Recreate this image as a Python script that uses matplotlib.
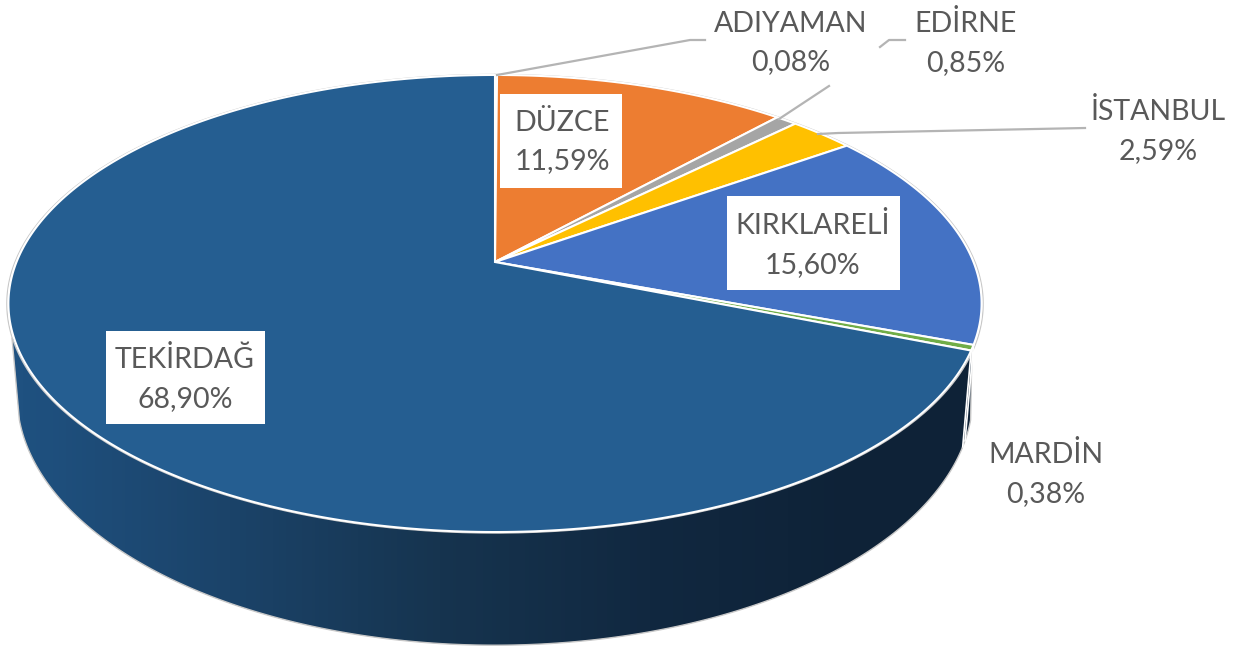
import numpy as np
import matplotlib
matplotlib.use("Agg")
import matplotlib.pyplot as plt
from matplotlib.colors import LinearSegmentedColormap
from matplotlib.patches import Polygon, Rectangle

names = ["ADIYAMAN", "DÜZCE", "EDİRNE", "İSTANBUL", "KIRKLARELİ", "MARDİN", "TEKİRDAĞ"]
shares = [0.08, 11.59, 0.85, 2.59, 15.60, 0.38, 68.90]
colors = ["#5B9BD5", "#ED7D31", "#A5A5A5", "#FFC000", "#4472C4", "#70AD47", "#255E91"]
label_pos = [(791, 43), (562, 142), (966, 43), (1158, 131), (813, 245), (1046, 474), (185, 379)]
wall_colors = ["#1F5180", "#1B4369", "#16344F", "#112840", "#0E2237"]

# white label backgrounds: x0, y0, x1, y1
label_boxes = [(500, 94, 622, 188), (727, 196, 900, 290), (106, 331, 265, 424)]

# pie seen in perspective: (cx, apex y, a, b, k)
TOP = (495, 262, 478.5, 221, 0.1816)
BOTTOM = (495, 350, 470, 241.6, 0.1816)


def project(theta, r, view):
    cx, cy, a, b, k = view
    u = r * np.sin(theta)
    v = r * np.cos(theta)
    d = 1 + k * v
    return cx + a * u / d, cy - b * v / d


fig = plt.figure(figsize=(12.42, 6.48), dpi=100)
ax = fig.add_axes([0, 0, 1, 1])
ax.axis("off")

# side wall with gradient
lx, ly = 12, 338
rx, ry = 972, 345
t = np.linspace(np.radians(254), np.radians(106), 300)
bx, by = project(t, 1.0, BOTTOM)
wall = np.column_stack([np.r_[lx, bx, rx], np.r_[ly, by, ry]])
patch = Polygon(wall, closed=True, fc="none", ec="#C8C8C8", lw=1.0, zorder=1)
ax.add_patch(patch)
cmap = LinearSegmentedColormap.from_list("wall", wall_colors)
img = ax.imshow(np.linspace(0, 1, 256)[None, :], cmap=cmap, extent=(20, 860, 648, 0),
                aspect="auto", zorder=0)
img2 = ax.imshow(np.array([[1.0]]), cmap=cmap, vmin=0, vmax=1, extent=(860, 1000, 648, 0),
                 aspect="auto", zorder=0)
img3 = ax.imshow(np.array([[0.0]]), cmap=cmap, vmin=0, vmax=1, extent=(0, 20, 648, 0),
                 aspect="auto", zorder=0)
for im in (img, img2, img3):
    im.set_clip_path(patch)

# outer rim of the top face
t = np.linspace(0, 2 * np.pi, 400)
ox, oy = project(t, 1.003, TOP)
ax.plot(ox, oy, color="#C8C8C8", lw=1.0, zorder=2)

# top face slices
cum = np.r_[0, np.cumsum(shares)] / np.sum(shares) * 2 * np.pi
for i, col in enumerate(colors):
    t = np.linspace(cum[i], cum[i + 1], max(3, int((cum[i + 1] - cum[i]) * 80)))
    x, y = project(t, 1.0, TOP)
    pts = np.column_stack([np.r_[TOP[0], x], np.r_[TOP[1], y]])
    ax.add_patch(Polygon(pts, closed=True, fc=col, ec="white", lw=1.5, zorder=3))

# wall edges of the thin slice at right
for i in (5, 6):
    x0, y0 = project(cum[i], 1.0, TOP)
    x1, y1 = project(cum[i], 1.0, BOTTOM)
    ax.plot([x0, x1], [y0, y1], color="white", lw=1.2, zorder=2)

# leader lines
leaders = [
    ([497, 690, 705], [75, 40, 40]),
    ([779, 829], [119, 86]),
    ([880, 889, 905], [47, 40, 40]),
    ([818, 838, 1085], [134, 133, 128]),
]
for lx_, ly_ in leaders:
    ax.plot(lx_, ly_, color="#B4B4B4", lw=1.6, zorder=4)

for x0, y0, x1, y1 in label_boxes:
    ax.add_patch(Rectangle((x0, y0), x1 - x0, y1 - y0, fc="white", ec="none", zorder=4.5))

for name, share, (x, y) in zip(names, shares, label_pos):
    txt = f"{name}\n{share:.2f}".replace(".", ",") + "%"
    ax.text(x, y, txt, ha="center", va="center", family=["Lato", "DejaVu Sans"],
            fontsize=20.5, color="#595959", linespacing=1.6, zorder=5)

ax.set_xlim(0, 1242)
ax.set_ylim(648, 0)
fig.savefig("out.png", dpi=100)
